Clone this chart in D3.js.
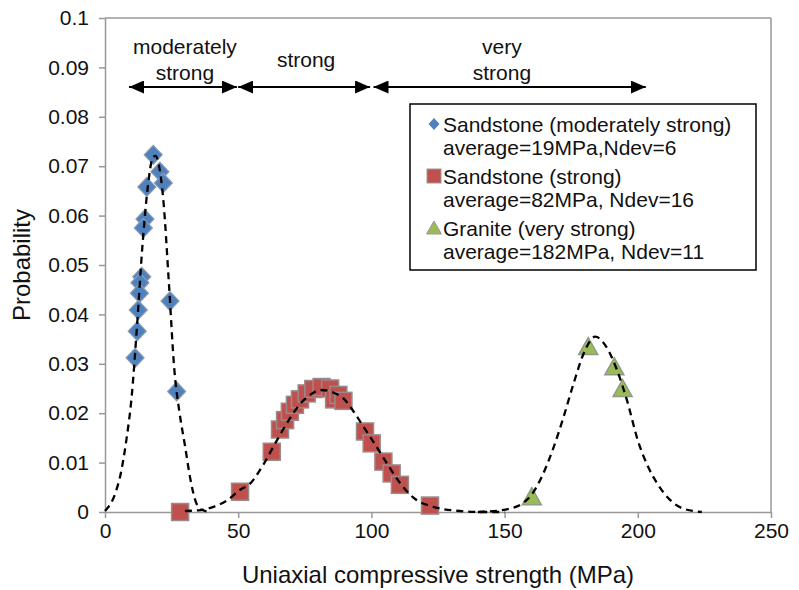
<!DOCTYPE html>
<html>
<head>
<meta charset="utf-8">
<script src="https://cdn.jsdelivr.net/npm/d3@7"></script>
<style>
  body { margin: 0; background: #fff; }
  text { font-family: 'Liberation Sans', Arial, sans-serif; fill: #111; }
</style>
</head>
<body>
<div></div>
<script>
// measured points (UCS in MPa, probability)
const diamondX = [18.1, 20.6, 21.9, 15.7, 15.0, 14.4, 13.8, 13.1, 12.9, 12.5, 12.1, 11.3, 24.4, 26.9];
const diamondY = [0.0723, 0.0689, 0.0666, 0.0658, 0.0593, 0.0575, 0.0476, 0.0464, 0.0443, 0.0409, 0.0366, 0.0312, 0.0427, 0.0244];

const squareX = [28.2, 50.7, 62.6, 65.7, 67.6, 69.4, 71.3, 73.2, 75.7, 78.2, 81.3, 84.5, 86.0, 87.6, 89.5, 97.6, 100.1, 104.5, 107.6, 110.7, 122.0];
const squareY = [0.0, 0.0041, 0.0122, 0.0167, 0.0186, 0.0203, 0.0217, 0.0228, 0.0240, 0.0249, 0.0253, 0.0250, 0.0228, 0.0237, 0.0225, 0.0163, 0.0139, 0.0102, 0.0078, 0.0055, 0.0013];

const triangleX = [181.4, 191.2, 194.3, 160.2];
const triangleY = [0.0335, 0.0294, 0.0250, 0.0031];

// fitted curves
const fit1X = [0, 4, 6, 8, 10, 12, 14, 16, 18, 19, 20, 22, 24, 26, 28, 30, 32, 34, 36, 40];
const fit1Y = [0.0002, 0.004, 0.008, 0.0145, 0.0233, 0.0375, 0.0535, 0.0655, 0.0718, 0.0721, 0.0708, 0.0625, 0.0462, 0.029, 0.020, 0.0135, 0.0068, 0.0022, 0.0005, 0.0];

const fit2X = [30, 36, 41, 46, 51, 54, 59, 64, 69, 73, 77, 81, 86, 89.5, 93, 97, 101, 106, 111, 116, 123, 131, 141, 150];
const fit2Y = [0.0002, 0.0004, 0.0011, 0.0024, 0.0046, 0.0055, 0.0092, 0.0140, 0.0186, 0.0217, 0.0237, 0.0247, 0.0241, 0.0230, 0.0206, 0.0173, 0.0140, 0.0097, 0.0057, 0.0028, 0.0011, 0.0003, 0.0, 0.0];

const fit3X = [140, 148, 152, 156, 160, 164, 168, 172, 176, 180, 184, 188, 192, 196, 200, 204, 208, 212, 217, 224];
const fit3Y = [0.0, 0.0003, 0.0007, 0.0015, 0.0034, 0.0072, 0.0125, 0.019, 0.0262, 0.0325, 0.0355, 0.0336, 0.029, 0.0225, 0.0145, 0.009, 0.0052, 0.0025, 0.0007, 0.0];

const xTicks = [0, 50, 100, 150, 200, 250];
const yTicks = [0, 0.01, 0.02, 0.03, 0.04, 0.05, 0.06, 0.07, 0.08, 0.09, 0.1];
const yTickLabels = ['0', '0.01', '0.02', '0.03', '0.04', '0.05', '0.06', '0.07', '0.08', '0.09', '0.1'];

const classNames = [['moderately', 'strong'], ['strong'], ['very', 'strong']];
const classFrom = [9, 50, 100.8];
const classTo = [49.5, 99.5, 203];
const classMid = [30, 75.5, 149];

const legendNames = ['Sandstone (moderately strong)', 'Sandstone (strong)', 'Granite (very strong)'];
const legendStats = ['average=19MPa,Ndev=6', 'average=82MPa, Ndev=16', 'average=182MPa, Ndev=11'];
const legendColors = ['#4F81BD', '#C0504D', '#9BBB59'];

const w = 799;
const h = 590;

const x = d3.scaleLinear().domain([0, 250]).range([105, 771]);
const y = d3.scaleLinear().domain([0, 0.1]).range([512, 18]);

const svg = d3
  .select('body')
  .select('div')
  .append('svg')
  .attr('width', w)
  .attr('height', h);

// plot frame (top and right)
svg.append('line')
  .attr('x1', x(0)).attr('x2', x(250)).attr('y1', y(0.1)).attr('y2', y(0.1))
  .style('stroke', '#999').style('stroke-width', 1.5);
svg.append('line')
  .attr('x1', x(250)).attr('x2', x(250)).attr('y1', y(0.1)).attr('y2', y(0))
  .style('stroke', '#999').style('stroke-width', 1.5);

// axes
const xAxis = svg.append('g')
  .attr('transform', `translate(0, ${y(0)})`)
  .call(d3.axisBottom(x).tickValues(xTicks).tickSize(6).tickSizeOuter(0));
const yAxis = svg.append('g')
  .attr('transform', `translate(${x(0)}, 0)`)
  .call(d3.axisLeft(y).tickValues(yTicks).tickSize(6).tickSizeOuter(0)
    .tickFormat((d, i) => yTickLabels[i]));

[xAxis, yAxis].forEach((g) => {
  g.select('.domain').style('stroke', '#999').style('stroke-width', 1.5);
  g.selectAll('.tick line').style('stroke', '#999').style('stroke-width', 1.5);
  g.selectAll('.tick text')
    .style('font-size', '21px')
    .style('font-family', "'Liberation Sans', Arial, sans-serif")
    .style('fill', '#111');
});
xAxis.selectAll('.tick text').attr('dy', '0.8em');
yAxis.selectAll('.tick text').attr('x', -16);

// axis titles
svg.append('text')
  .attr('x', (x(0) + x(250)) / 2)
  .attr('y', 583)
  .attr('text-anchor', 'middle')
  .style('font-size', '24px')
  .text('Uniaxial compressive strength (MPa)');

svg.append('text')
  .attr('transform', `translate(30, ${(y(0) + y(0.1)) / 2}) rotate(-90)`)
  .attr('text-anchor', 'middle')
  .style('font-size', '24px')
  .text('Probability');

// markers
svg.append('g')
  .selectAll('path')
  .data(diamondX.map((d, i) => [d, diamondY[i]]))
  .enter()
  .append('path')
  .attr('d', 'M0,-9.5 L9,0 L0,9.5 L-9,0 Z')
  .attr('transform', (d) => `translate(${x(d[0])}, ${y(d[1])})`)
  .style('fill', '#4F81BD')
  .style('stroke', '#8a9bb0')
  .style('stroke-width', 1.2);

svg.append('g')
  .selectAll('rect')
  .data(squareX.map((d, i) => [d, squareY[i]]))
  .enter()
  .append('rect')
  .attr('x', (d) => x(d[0]) - 8.5)
  .attr('y', (d) => y(d[1]) - 8.5)
  .attr('width', 17)
  .attr('height', 17)
  .style('fill', '#C0504D')
  .style('stroke', '#9a8a8a')
  .style('stroke-width', 1.5);

svg.append('g')
  .selectAll('path')
  .data(triangleX.map((d, i) => [d, triangleY[i]]))
  .enter()
  .append('path')
  .attr('d', 'M0,-9 L9.5,8 L-9.5,8 Z')
  .attr('transform', (d) => `translate(${x(d[0])}, ${y(d[1])})`)
  .style('fill', '#9BBB59')
  .style('stroke', '#8f9a88')
  .style('stroke-width', 1.5);

// dashed fitted curves on top
const line = d3.line()
  .x((d) => x(d[0]))
  .y((d) => y(d[1]))
  .curve(d3.curveMonotoneX);

[[fit1X, fit1Y], [fit2X, fit2Y], [fit3X, fit3Y]].forEach((c) => {
  svg.append('path')
    .datum(c[0].map((d, i) => [d, c[1][i]]))
    .attr('d', line)
    .style('fill', 'none')
    .style('stroke', '#000')
    .style('stroke-width', 2.3)
    .style('stroke-dasharray', '7,5');
});

// strength class arrows
const defs = svg.append('defs');
defs.append('marker')
  .attr('id', 'head')
  .attr('markerUnits', 'userSpaceOnUse')
  .attr('viewBox', '0 0 15 13')
  .attr('markerWidth', 15)
  .attr('markerHeight', 13)
  .attr('refX', 15)
  .attr('refY', 6.5)
  .attr('orient', 'auto-start-reverse')
  .append('path')
  .attr('d', 'M0,0 L15,6.5 L0,13 Z')
  .style('fill', '#000');

const arrowY = 87;
classNames.forEach((names, i) => {
  svg.append('line')
    .attr('x1', x(classFrom[i]))
    .attr('x2', x(classTo[i]))
    .attr('y1', arrowY)
    .attr('y2', arrowY)
    .style('stroke', '#000')
    .style('stroke-width', 2)
    .attr('marker-start', 'url(#head)')
    .attr('marker-end', 'url(#head)');
  const t = svg.append('text')
    .attr('x', x(classMid[i]))
    .attr('y', names.length === 1 ? 67 : 54)
    .attr('text-anchor', 'middle')
    .style('font-size', '21px');
  names.forEach((n, j) => {
    t.append('tspan')
      .attr('x', x(classMid[i]))
      .attr('dy', j === 0 ? 0 : 26)
      .text(n);
  });
});

// legend
const legend = svg.append('g').attr('id', 'legend');
legend.append('rect')
  .attr('x', 410)
  .attr('y', 104)
  .attr('width', 346)
  .attr('height', 166)
  .style('fill', '#fff')
  .style('stroke', '#000')
  .style('stroke-width', 1.5);

legendNames.forEach((name, i) => {
  const ly = 124 + i * 52;
  if (i === 0) {
    legend.append('path')
      .attr('d', 'M0,-6 L5.5,0 L0,6 L-5.5,0 Z')
      .attr('transform', `translate(434, ${ly})`)
      .style('fill', legendColors[i]);
  } else if (i === 1) {
    legend.append('rect')
      .attr('x', 427).attr('y', ly - 7).attr('width', 14).attr('height', 14)
      .style('fill', legendColors[i]).style('stroke', '#999').style('stroke-width', 1);
  } else {
    legend.append('path')
      .attr('d', 'M0,-7 L7.5,6 L-7.5,6 Z')
      .attr('transform', `translate(434, ${ly})`)
      .style('fill', legendColors[i]).style('stroke', '#999').style('stroke-width', 1);
  }
  legend.append('text')
    .attr('x', 443)
    .attr('y', ly + 7.5)
    .style('font-size', '21px')
    .text(name);
  legend.append('text')
    .attr('x', 443)
    .attr('y', ly + 31)
    .style('font-size', '21px')
    .text(legendStats[i]);
});
</script>
</body>
</html>
